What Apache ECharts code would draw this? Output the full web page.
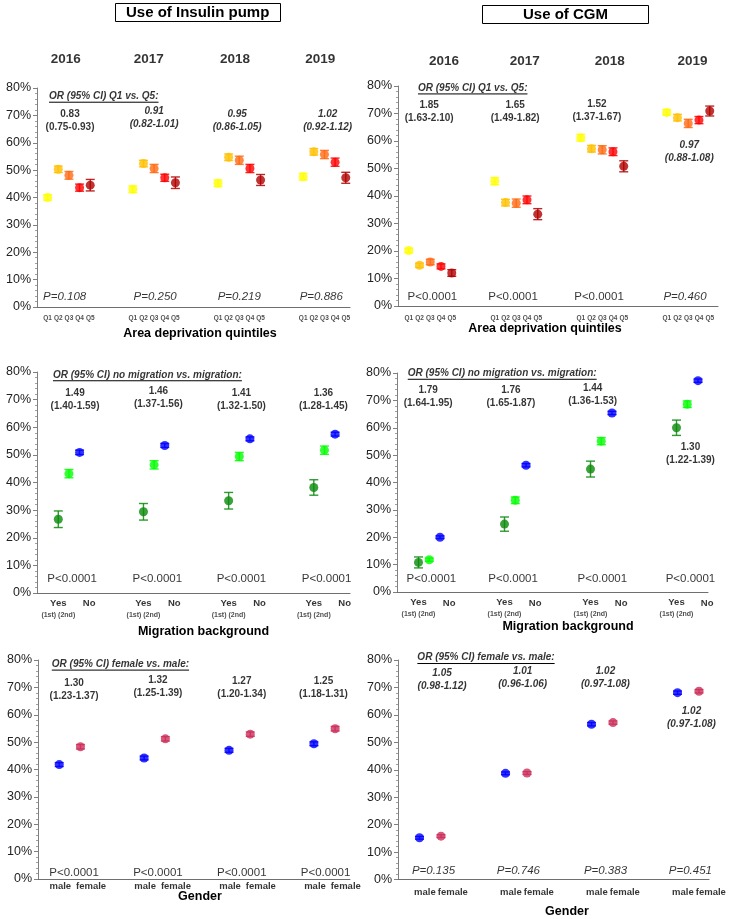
<!DOCTYPE html>
<html><head><meta charset="utf-8">
<script src="https://cdn.jsdelivr.net/npm/echarts@6/dist/echarts.min.js"></script>
<style>html,body{margin:0;padding:0;background:#fff}#c{width:729px;height:919px}</style>
</head><body><div id="c"></div>
<script>
// ---------------- DATA ----------------
const years = ['2016', '2017', '2018', '2019'];
const quintileLabels = ['Q1', 'Q2', 'Q3', 'Q4', 'Q5'];
const migrationLabels = ['Yes', '(1st) (2nd)', 'No'];
const genderLabels = ['male', 'female'];

// percent of patients, rows = years, columns = categories
const pumpQ   = [[40.0, 50.3, 48.1, 43.6, 44.5], [43.0, 52.4, 50.6, 47.2, 45.4], [45.2, 54.7, 53.6, 50.6, 46.4], [47.6, 56.7, 55.7, 52.9, 47.2]];
const pumpQci = [[1.0, 1.2, 1.4, 1.3, 2.1], [1.2, 1.2, 1.5, 1.3, 2.1], [1.2, 1.2, 1.5, 1.5, 2.0], [1.2, 1.2, 1.5, 1.5, 2.0]];
const cgmQ    = [[20.2, 14.8, 16.0, 14.4, 12.0], [45.4, 37.6, 37.4, 38.6, 33.4], [61.2, 57.2, 56.8, 56.1, 50.8], [70.4, 68.5, 66.4, 67.6, 70.9]];
const cgmQci  = [[0.8, 0.8, 1.0, 0.9, 1.2], [1.3, 1.2, 1.5, 1.4, 2.0], [1.2, 1.2, 1.5, 1.4, 2.0], [1.0, 1.2, 1.5, 1.3, 1.8]];

const pumpMig   = [[26.7, 43.2, 50.9], [29.4, 46.4, 53.4], [33.4, 49.4, 55.8], [38.2, 51.7, 57.5]];
const pumpMigCi = [[3.0, 1.5, 0.8], [3.0, 1.5, 0.7], [3.0, 1.5, 0.7], [2.8, 1.5, 0.7]];
const cgmMig    = [[10.8, 11.8, 20.0], [24.8, 33.5, 46.3], [44.9, 55.1, 65.4], [60.0, 68.6, 77.2]];
const cgmMigCi  = [[2.0, 0.6, 0.5], [2.6, 1.2, 0.6], [2.9, 1.3, 0.6], [2.8, 1.2, 0.6]];

const pumpSex   = [[41.8, 48.3], [44.2, 51.2], [47.0, 52.9], [49.4, 54.9]];
const pumpSexCi = [[0.7, 0.8], [0.7, 0.8], [0.7, 0.8], [0.7, 0.8]];
const cgmSex    = [[15.2, 15.8], [38.7, 38.8], [56.6, 57.2], [68.1, 68.6]];
const cgmSexCi  = [[0.5, 0.5], [0.5, 0.5], [0.6, 0.6], [0.6, 0.6]];

// odds ratios [estimate, low, high]
const pumpQor   = [[0.83, 0.75, 0.93], [0.91, 0.82, 1.01], [0.95, 0.86, 1.05], [1.02, 0.92, 1.12]];
const cgmQor    = [[1.85, 1.63, 2.10], [1.65, 1.49, 1.82], [1.52, 1.37, 1.67], [0.97, 0.88, 1.08]];
const pumpMigOr = [[1.49, 1.40, 1.59], [1.46, 1.37, 1.56], [1.41, 1.32, 1.50], [1.36, 1.28, 1.45]];
const cgmMigOr  = [[1.79, 1.64, 1.95], [1.76, 1.65, 1.87], [1.44, 1.36, 1.53], [1.30, 1.22, 1.39]];
const pumpSexOr = [[1.30, 1.23, 1.37], [1.32, 1.25, 1.39], [1.27, 1.20, 1.34], [1.25, 1.18, 1.31]];
const cgmSexOr  = [[1.05, 0.98, 1.12], [1.01, 0.96, 1.06], [1.02, 0.97, 1.08], [1.02, 0.97, 1.08]];

// p values
const pumpQp   = ['=0.108', '=0.250', '=0.219', '=0.886'];
const cgmQp    = ['<0.0001', '<0.0001', '<0.0001', '=0.460'];
const pumpMigP = ['<0.0001', '<0.0001', '<0.0001', '<0.0001'];
const cgmMigP  = ['<0.0001', '<0.0001', '<0.0001', '<0.0001'];
const pumpSexP = ['<0.0001', '<0.0001', '<0.0001', '<0.0001'];
const cgmSexP  = ['=0.135', '=0.746', '=0.383', '=0.451'];

const orHeads = ['OR (95% CI) Q1 vs. Q5:', 'OR (95% CI) no migration vs. migration:', 'OR (95% CI) female vs. male:'];
const sectionNames = ['Area deprivation quintiles', 'Migration background', 'Gender'];
const titles = ['Use of Insulin pump', 'Use of CGM'];

// ---------------- STYLE / LAYOUT ----------------
const FONT = '"Liberation Sans", Arial, sans-serif';
const qColors = ['#ffff00', '#ffc000', '#ff6a13', '#ff0000', '#b00000'];
const migColors = ['#0a8a0a', '#00ff00', '#0000ff'];
const sexColors = ['#0000ff', '#cc2e5a'];
const GROUP_STEP = 8;

const panels = [
  { values: pumpQ, ci: pumpQci, or: pumpQor, p: pumpQp, colors: qColors, slots: [1, 2, 3, 4, 5], head: orHeads[0], name: sectionNames[0], kind: 'q',
    grid: { left: 37, top: 88, width: 313, height: 219 }, xMax: 29.4,
    yearY: 90.5, yearX: [2.7, 10.5, 18.6, 26.6], headX: 1.13, headY: 77.0,
    orX: [3.1, 11.0, 18.8, 27.3], orY: [68.2, 69.3, 68.2, 68.2], pX: [2.6, 11.1, 19.0, 26.7], pY: 3.6,
    catY: -4.0, nameGap: 20.5, nameShift: 6.5 },
  { values: cgmQ, ci: cgmQci, or: cgmQor, p: cgmQp, colors: qColors, slots: [1, 2, 3, 4, 5], head: orHeads[0], name: sectionNames[0], kind: 'q',
    grid: { left: 398, top: 86, width: 320, height: 220 }, xMax: 29.77,
    yearY: 89.1, yearX: [4.28, 11.8, 19.7, 27.4], headX: 1.86, headY: 79.3,
    orX: [2.9, 10.9, 18.5, 27.1], orY: [70.5, 70.5, 71.1, 56.2], pX: [3.2, 10.7, 18.7, 26.7], pY: 3.3,
    catY: -4.4, nameGap: 16.5, nameShift: -13 },
  { values: pumpMig, ci: pumpMigCi, or: pumpMigOr, p: pumpMigP, colors: migColors, slots: [2, 3, 4], head: orHeads[1], name: sectionNames[1], kind: 'm',
    grid: { left: 37, top: 372, width: 313, height: 221 }, xMax: 29.4,
    headX: 1.5, headY: 79.0,
    orX: [3.57, 11.4, 19.2, 26.9], orY: [70.1, 70.7, 70.1, 70.1], pX: [3.3, 11.3, 19.2, 27.2], pY: 5.1,
    catX: [2, 4.9], catY: -5.8, catY2: -3.6, nameGap: 32.5, nameShift: 10 },
  { values: cgmMig, ci: cgmMigCi, or: cgmMigOr, p: cgmMigP, colors: migColors, slots: [2, 3, 4], head: orHeads[1], name: sectionNames[1], kind: 'm',
    grid: { left: 397, top: 373, width: 311, height: 219 }, xMax: 28.93,
    headX: 1.0, headY: 79.9,
    orX: [2.9, 10.6, 18.2, 27.3], orY: [71.2, 71.2, 71.9, 50.5], pX: [3.2, 10.8, 19.1, 27.3], pY: 4.7,
    catX: [2, 4.85], catY: -5.8, catY2: -4.0, nameGap: 28.5, nameShift: 15.5 },
  { values: pumpSex, ci: pumpSexCi, or: pumpSexOr, p: pumpSexP, colors: sexColors, slots: [2, 4], head: orHeads[2], name: sectionNames[2], kind: 's',
    grid: { left: 38, top: 660, width: 312, height: 219 }, xMax: 29.4,
    headX: 1.3, headY: 78.5,
    orX: [3.4, 11.3, 19.2, 26.9], orY: [69.3, 70.1, 69.7, 69.7], pX: [3.4, 11.3, 19.2, 27.1], pY: 2.2,
    catX: [2.1, 5.0], catY: -2.6, nameGap: 11.5, nameShift: 6 },
  { values: cgmSex, ci: cgmSexCi, or: cgmSexOr, p: cgmSexP, colors: sexColors, slots: [2, 4], head: orHeads[2], name: sectionNames[2], kind: 's',
    grid: { left: 398, top: 660, width: 311, height: 220 }, xMax: 28.93,
    headX: 1.8, headY: 80.9,
    orX: [4.1, 11.6, 19.3, 27.3], orY: [72.7, 73.5, 73.5, 58.9], pX: [3.3, 11.2, 19.3, 27.2], pY: 3.3,
    catX: [2.5, 5.1], catY: -4.7, nameGap: 25.5, nameShift: 13.5 }
];

function renderErr(params, api) {
  const x = api.value(0), lo = api.value(1), hi = api.value(2);
  const p1 = api.coord([x, hi]), p2 = api.coord([x, lo]);
  const w = 4.5;
  const style = { stroke: api.visual('color'), lineWidth: 1.4, opacity: 0.85 };
  return { type: 'group', children: [
    { type: 'line', shape: { x1: p1[0], y1: p1[1], x2: p2[0], y2: p2[1] }, style },
    { type: 'line', shape: { x1: p1[0] - w, y1: p1[1], x2: p1[0] + w, y2: p1[1] }, style },
    { type: 'line', shape: { x1: p2[0] - w, y1: p2[1], x2: p2[0] + w, y2: p2[1] }, style }
  ] };
}

function txt(x, y, text, opts) {
  return { value: [x, y], label: Object.assign({ show: true, position: 'inside', formatter: text, fontFamily: FONT, color: '#000', align: 'center', verticalAlign: 'middle' }, opts) };
}

const option = {
  animation: false,
  backgroundColor: '#fff',
  title: [
    { text: titles[0], left: 115, top: 3, borderColor: '#000', borderWidth: 1, padding: [2, 11, 2, 11],
      textStyle: { fontSize: 15, fontWeight: 'bold', color: '#000', fontFamily: FONT } },
    { text: titles[1], left: 482, top: 5, borderColor: '#000', borderWidth: 1, padding: [2, 41, 2, 41],
      textStyle: { fontSize: 15, fontWeight: 'bold', color: '#000', fontFamily: FONT } }
  ],
  grid: [], xAxis: [], yAxis: [], series: []
};

panels.forEach((P, i) => {
  option.grid.push(Object.assign({ containLabel: false }, P.grid));
  const sh = P.nameShift;
  option.xAxis.push({
    type: 'value', gridIndex: i, min: 0, max: P.xMax,
    axisLine: { show: true, onZero: false, lineStyle: { color: '#6f6f6f', width: 1 } },
    axisTick: { show: false }, axisLabel: { show: false }, splitLine: { show: false },
    name: P.name, nameLocation: 'middle', nameGap: P.nameGap,
    nameTextStyle: { fontSize: 12.5, fontWeight: 'bold', color: '#000', fontFamily: FONT,
      padding: sh >= 0 ? [0, 0, 0, 2 * sh] : [0, -2 * sh, 0, 0] }
  });
  option.yAxis.push({
    type: 'value', gridIndex: i, min: 0, max: 80, interval: 10,
    axisLine: { show: true, lineStyle: { color: '#7f7f7f' } },
    axisTick: { show: true, length: 4, lineStyle: { color: '#7f7f7f' } },
    minorTick: { show: true, splitNumber: 5, length: 2, lineStyle: { color: '#a0a0a0' } },
    splitLine: { show: false },
    axisLabel: { formatter: v => v + '%', fontSize: 12.5, color: '#222', fontFamily: FONT, margin: 6 }
  });

  // points and error bars
  P.slots.forEach((slot, c) => {
    const pts = years.map((yr, g) => [slot + GROUP_STEP * g, P.values[g][c]]);
    const errs = years.map((yr, g) => [slot + GROUP_STEP * g, P.values[g][c] - P.ci[g][c], P.values[g][c] + P.ci[g][c]]);
    option.series.push({
      type: 'custom', xAxisIndex: i, yAxisIndex: i, renderItem: renderErr, data: errs,
      encode: { x: 0, y: [1, 2] }, itemStyle: { color: P.colors[c] }, z: 2, silent: true
    });
    option.series.push({
      type: 'scatter', xAxisIndex: i, yAxisIndex: i, data: pts, symbol: 'circle', symbolSize: 9,
      itemStyle: { color: P.colors[c] }, z: 3, silent: true
    });
  });

  // text annotations anchored in data coordinates
  const items = [];
  if (P.yearX) years.forEach((yr, g) => items.push(txt(P.yearX[g], P.yearY, yr, { fontSize: 13.5, fontWeight: 'bold' })));
  items.push(txt(P.headX, P.headY, P.head, { fontSize: 10, fontWeight: 'bold', fontStyle: 'italic', align: 'left' }));
  P.or.forEach((o, g) => {
    const ns = o[1] <= 1 && o[2] >= 1;
    items.push(txt(P.orX[g], P.orY[g], o[0].toFixed(2) + '\n(' + o[1].toFixed(2) + '-' + o[2].toFixed(2) + ')',
      { fontSize: 10, fontWeight: 'bold', fontStyle: ns ? 'italic' : 'normal', lineHeight: 13 }));
  });
  P.p.forEach((pv, g) => {
    items.push(txt(P.pX[g], P.pY, 'P' + pv, { fontSize: 11.5, fontStyle: pv[0] === '<' ? 'normal' : 'italic' }));
  });
  // category tick labels
  years.forEach((yr, g) => {
    const base = GROUP_STEP * g;
    if (P.kind === 'q') {
      P.slots.forEach((slot, c) => items.push(txt(base + slot, P.catY, quintileLabels[c], { fontSize: 6.5, fontWeight: 'bold', color: '#222' })));
    } else if (P.kind === 'm') {
      items.push(txt(base + P.catX[0], P.catY, '{a|' + migrationLabels[0] + '}\n{b|' + migrationLabels[1] + '}',
        { rich: { a: { fontSize: 9.5, fontWeight: 'bold', lineHeight: 12, fontFamily: FONT, color: '#000' }, b: { fontSize: 7, fontWeight: 'bold', lineHeight: 12, fontFamily: FONT, color: '#222' } } }));
      items.push(txt(base + P.catX[1], P.catY2, migrationLabels[2], { fontSize: 9.5, fontWeight: 'bold' }));
    } else {
      genderLabels.forEach((gl, c) => items.push(txt(base + P.catX[c], P.catY, gl, { fontSize: 9.5, fontWeight: 'bold' })));
    }
  });
  option.series.push({
    type: 'scatter', xAxisIndex: i, yAxisIndex: i, data: items, symbolSize: 0, clip: false, silent: true,
    itemStyle: { color: 'transparent' }, z: 5
  });
});

const chart = echarts.init(document.getElementById('c'), null, { renderer: 'canvas' });
chart.setOption(option);

// underline the OR headers
const ctx = document.createElement('canvas').getContext('2d');
ctx.font = 'italic bold 10px "Liberation Sans"';
const lines = [];
panels.forEach((P, i) => {
  const pt = chart.convertToPixel({ gridIndex: i }, [P.headX, P.headY]);
  const w = ctx.measureText(P.head).width;
  lines.push({ type: 'line', shape: { x1: pt[0], y1: pt[1] + 6, x2: pt[0] + w, y2: pt[1] + 6 }, style: { stroke: '#000', lineWidth: 1 }, silent: true });
});
chart.setOption({ graphic: lines });
</script>
</body></html>
